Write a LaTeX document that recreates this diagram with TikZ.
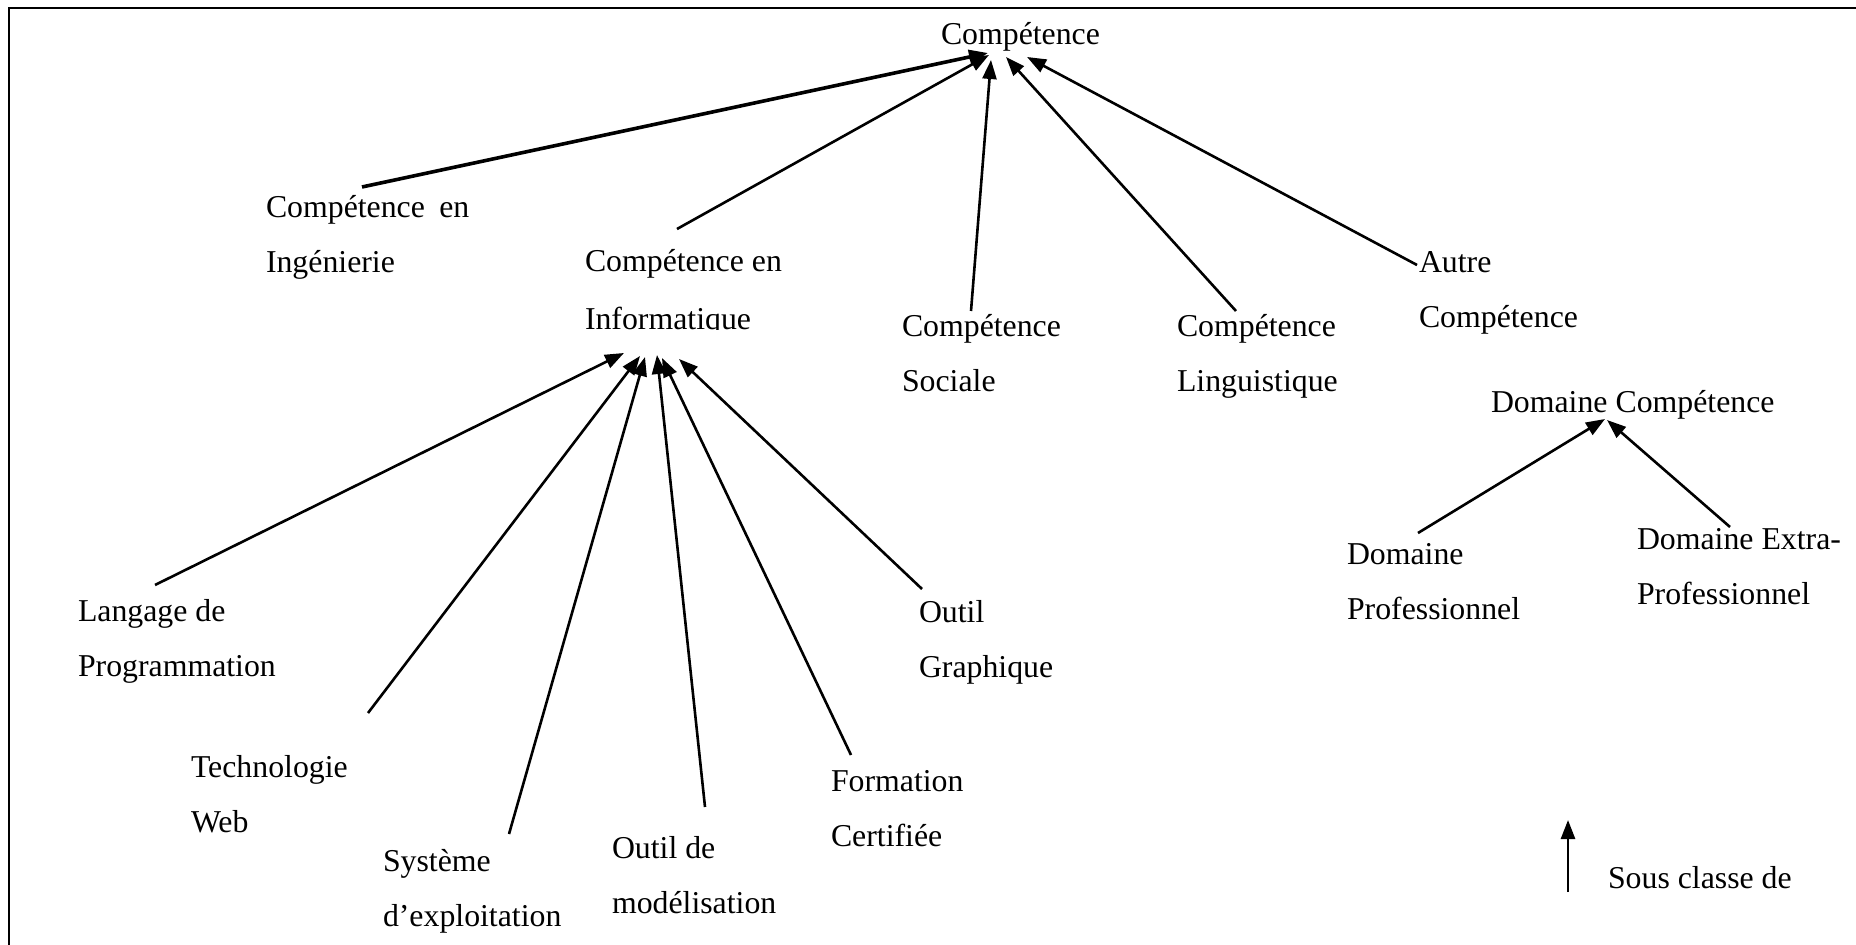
\documentclass[tikz,border=0pt]{standalone}
\usepackage{fontspec}
\setmainfont{Liberation Serif}
\usetikzlibrary{arrows.meta}
% two stacked lines, the first one giving the baseline
\newcommand\deuxlignes[2]{\vtop{\hbox{#1}\hbox{#2}}}
\begin{document}
\begin{tikzpicture}[x=0.5pt,y=-0.5pt,
  lbl/.style={anchor=base west, inner sep=0pt, outer sep=0pt,
              font=\fontsize{15.9}{27.5}\selectfont},
  isa/.style={line width=1.3pt, -{Triangle[length=9.5pt,width=7pt]}},
  isathick/.style={isa, line width=1.8pt},
]
\useasboundingbox (0,0) rectangle (1856,945);

% frame (left and top edges)
\draw[line width=1pt] (9,945) -- (9,8) -- (1856,8);

% ---------- classes ----------
\node[lbl] (comp) at (941,45) {Compétence};
\node[lbl] (ing)  at (266,218) {\deuxlignes{Compétence\hskip0.45em en}{Ingénierie}};
\begin{scope}
  % the text box cuts off the bottom of its second line
  \clip (560,240) rectangle (820,330);
  \node[lbl] (info) at (585,272) {\vtop{\hbox{Compétence en}\kern1.5pt\hbox{Informatique}}};
\end{scope}
\node[lbl] (soc)   at (902,337)  {\deuxlignes{Compétence}{Sociale}};
\node[lbl] (ling)  at (1177,337) {\deuxlignes{Compétence}{Linguistique}};
\node[lbl] (autre) at (1419,273) {\deuxlignes{Autre}{Compétence}};

\node[lbl] (lang)  at (78,622)  {\deuxlignes{Langage de}{Programmation}};
\node[lbl] (tech)  at (191,777) {\deuxlignes{Technologie}{Web}};
\node[lbl] (sys)   at (383,871) {\deuxlignes{Système}{d’exploitation}};
\node[lbl] (mod)   at (612,858) {\deuxlignes{Outil de}{modélisation}};
\node[lbl] (form)  at (831,791) {\deuxlignes{Formation}{Certifiée}};
\node[lbl] (graph) at (919,623) {\deuxlignes{Outil}{Graphique}};

\node[lbl] (dom)   at (1491,413) {Domaine Compétence};
\node[lbl] (pro)   at (1347,565) {\deuxlignes{Domaine}{Professionnel}};
\node[lbl] (extra) at (1637,550) {\deuxlignes{Domaine Extra-}{Professionnel}};

\node[lbl] (leg)   at (1608,888) {Sous classe de};

% ---------- connector ends ----------
\coordinate (comp-1) at (988,53);
\coordinate (comp-2) at (989,55);
\coordinate (comp-3) at (991,60);
\coordinate (comp-4) at (1006,57);
\coordinate (comp-5) at (1027,57);
\coordinate (ing-up)   at (362,187);
\coordinate (info-up)  at (677,229);
\coordinate (soc-up)   at (971,311);
\coordinate (ling-up)  at (1236,311);
\coordinate (autre-up) at (1417,265);

\coordinate (info-1) at (624,353);
\coordinate (info-2) at (640,356);
\coordinate (info-3) at (645,357);
\coordinate (info-4) at (657,355);
\coordinate (info-5) at (662,358);
\coordinate (info-6) at (679,359);
\coordinate (lang-up)  at (155,585);
\coordinate (tech-up)  at (368,713);
\coordinate (sys-up)   at (509,834);
\coordinate (mod-up)   at (705,807);
\coordinate (form-up)  at (851,755);
\coordinate (graph-up) at (922,589);

\coordinate (dom-1) at (1605,419);
\coordinate (dom-2) at (1607,420);
\coordinate (pro-up)   at (1418,533);
\coordinate (extra-up) at (1730,527);

\coordinate (leg-foot) at (1568,892);
\coordinate (leg-head) at (1568,820);

% ---------- subclass links ----------
\draw[isathick] (ing-up)   -- (comp-1);
\draw[isa]      (info-up)  -- (comp-2);
\draw[isa]      (soc-up)   -- (comp-3);
\draw[isa]      (ling-up)  -- (comp-4);
\draw[isa]      (autre-up) -- (comp-5);

\draw[isa] (lang-up)  -- (info-1);
\draw[isa] (tech-up)  -- (info-2);
\draw[isa] (sys-up)   -- (info-3);
\draw[isa] (mod-up)   -- (info-4);
\draw[isa] (form-up)  -- (info-5);
\draw[isa] (graph-up) -- (info-6);

\draw[isa] (pro-up)   -- (dom-1);
\draw[isa] (extra-up) -- (dom-2);

\draw[isa] (leg-foot) -- (leg-head);
\end{tikzpicture}
\end{document}
